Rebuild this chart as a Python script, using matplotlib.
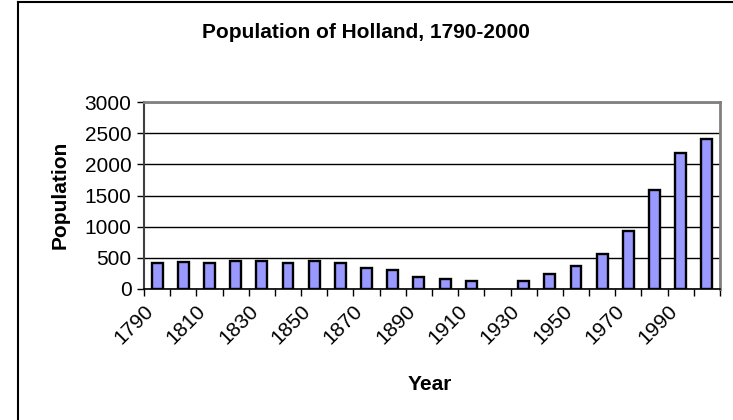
import matplotlib
matplotlib.use("Agg")
import matplotlib.pyplot as plt
from matplotlib.lines import Line2D

years = [1790, 1800, 1810, 1820, 1830, 1840, 1850, 1860, 1870, 1880, 1890,
         1900, 1910, 1920, 1930, 1940, 1950, 1960, 1970, 1980, 1990, 2000]
population = [425, 440, 420, 450, 450, 420, 445, 410, 335, 300, 195,
              160, 135, None, 130, 245, 370, 555, 930, 1585, 2180, 2400]
yticks = [0, 500, 1000, 1500, 2000, 2500, 3000]

plt.rcParams['font.family'] = ['Liberation Sans', 'DejaVu Sans']

W, H = 733, 420
fig = plt.figure(figsize=(W / 100, H / 100), dpi=100)
fig.patch.set_facecolor('white')

# outer chart border (left and top visible)
fig.add_artist(Line2D([18 / W, 18 / W], [0, 1 - 1.5 / H], transform=fig.transFigure,
                      color='black', lw=1.5))
fig.add_artist(Line2D([18 / W, 1.0], [1 - 1.5 / H, 1 - 1.5 / H], transform=fig.transFigure,
                      color='black', lw=1.5))

left, right, top, bottom = 144, 720, 102, 289
ax = fig.add_axes([left / W, 1 - bottom / H, (right - left) / W, (bottom - top) / H])

x = list(range(len(years)))
xs = [i for i, v in zip(x, population) if v is not None]
vs = [v for v in population if v is not None]
ax.bar(xs, vs, width=0.42, color='#9999FF', edgecolor='black', linewidth=1.7,
       zorder=3)

ax.set_xlim(-0.5, len(years) - 0.5)
ax.set_ylim(0, 3000)
ax.set_yticks(yticks)
ax.set_yticklabels([str(v) for v in yticks], fontsize=15)
ax.yaxis.grid(True, color='black', lw=1.0, zorder=0)
ax.tick_params(axis='y', direction='out', length=5, width=1, pad=4)

ax.set_xticks(x[::2])
ax.set_xticklabels([str(y) for y in years[::2]], rotation=45, ha='right',
                   va='top', fontsize=15)
ax.set_xticks([i - 0.5 for i in range(len(years) + 1)], minor=True)
ax.tick_params(axis='x', which='major', length=0, pad=9)
ax.tick_params(axis='x', which='minor', direction='out', length=5, width=1)

for s in ['top', 'right']:
    ax.spines[s].set_color('#808080')
    ax.spines[s].set_linewidth(2)
ax.spines['left'].set_color('#404040')
ax.spines['left'].set_linewidth(1.5)
ax.spines['bottom'].set_color('black')
ax.spines['bottom'].set_linewidth(1.2)

fig.text(366 / W, 1 - 33 / H, 'Population of Holland, 1790-2000', ha='center',
         va='center', fontsize=15, fontweight='bold')
fig.text(60 / W, 1 - 195 / H, 'Population', ha='center', va='center', rotation=90,
         fontsize=15, fontweight='bold')
fig.text(430 / W, 1 - 385 / H, 'Year', ha='center', va='center', fontsize=15,
         fontweight='bold')

fig.savefig('out.png', dpi=100, facecolor='white')
